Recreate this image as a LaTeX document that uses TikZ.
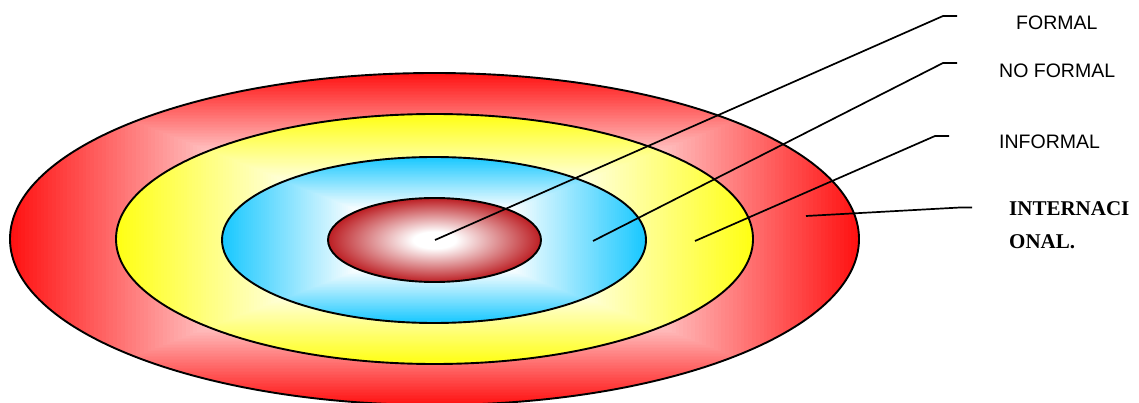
\documentclass[tikz,border=0pt]{standalone}
\usepackage{fontspec}
\newfontfamily\arialf{Liberation Sans}
\newfontfamily\timesf{Liberation Serif}
\definecolor{outred}{RGB}{255,18,18}
\definecolor{yel}{RGB}{255,255,20}
\definecolor{blu}{RGB}{25,200,255}
\definecolor{inred}{RGB}{188,30,35}
\pgfdeclareradialshading{inshade}{\pgfpoint{0bp}{0bp}}{color(0bp)=(white); color(5bp)=(white); color(25bp)=(inred); color(50bp)=(inred)}
\tikzset{
  ring/.style={draw=black, line width=1.9pt},
  leader/.style={draw=black, line width=1.7pt},
  lab/.style={anchor=base west, inner sep=0pt, font=\arialf\fontsize{19.5}{22}\selectfont},
  labb/.style={anchor=base west, inner sep=0pt, font=\timesf\bfseries\fontsize{21}{24}\selectfont}
}
% box (rectangle) gradient clipped to an ellipse: cx, cy, rx, ry, colour, start fraction
\newcommand\boxgradell[6]{%
  \begin{scope}
    \clip (#1,#2) ellipse [x radius=#3, y radius=#4];
    \foreach \i in {0,...,69} {
      \pgfmathsetmacro\f{1-(1-#6)*\i/70}
      \pgfmathsetmacro\p{100*(1-\i/70)}
      \fill[#5!\p!white] ({#1-\f*#3},{#2-\f*#4}) rectangle ({#1+\f*#3},{#2+\f*#4});
    }
    \fill[white] ({#1-#6*#3},{#2-#6*#4}) rectangle ({#1+#6*#3},{#2+#6*#4});
  \end{scope}
  \draw[ring] (#1,#2) ellipse [x radius=#3, y radius=#4];
}
\begin{document}
\begin{tikzpicture}[x=1pt,y=-1pt]
\useasboundingbox (0,0) rectangle (1139,403);
\begin{scope}
\clip (0,0) rectangle (1139,403);
\boxgradell{434.5}{239}{424.5}{166}{outred}{0.37}
\boxgradell{434.5}{239}{318.5}{125}{yel}{0.38}
\boxgradell{434}{240}{212}{83}{blu}{0.36}
\shade[shading=inshade, ring] (434.5,240) ellipse [x radius=106.5, y radius=42];
\end{scope}
% connector points
\coordinate (s1) at (435,240);
\coordinate (k1) at (943,16);
\coordinate (e1) at (957,16);
\coordinate (s2) at (593,241);
\coordinate (k2) at (943,63);
\coordinate (e2) at (957,63);
\coordinate (s3) at (695,241);
\coordinate (k3) at (935,136);
\coordinate (e3) at (949,136);
\coordinate (s4) at (806,216);
\coordinate (k4) at (960,207.5);
\coordinate (e4) at (972,207.5);
\draw[leader] (s1) -- (k1) -- (e1);
\draw[leader] (s2) -- (k2) -- (e2);
\draw[leader] (s3) -- (k3) -- (e3);
\draw[leader] (s4) -- (k4) -- (e4);
% labels
\node[lab] (formal) at (1016,30) {FORMAL};
\node[lab] (noformal) at (999,78) {NO FORMAL};
\node[lab] (informal) at (999,149) {INFORMAL};
\node[labb] (intern1) at (1009,216) {INTERNACI};
\node[labb] (intern2) at (1009,248) {ONAL.};
\end{tikzpicture}
\end{document}
